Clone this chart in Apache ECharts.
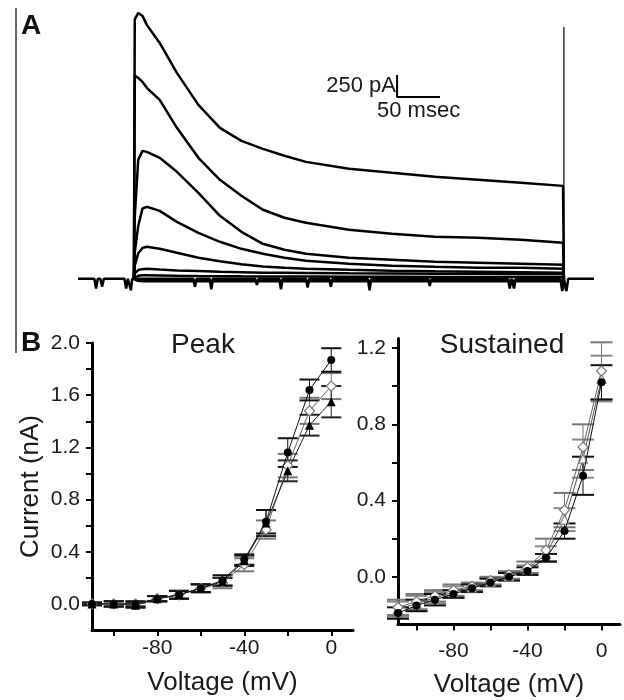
<!DOCTYPE html>
<html>
<head>
<meta charset="utf-8">
<script src="https://cdn.jsdelivr.net/npm/echarts@6/dist/echarts.min.js"></script>
<style>
html,body{margin:0;padding:0;background:#fff;}
#chart{width:624px;height:700px;}
</style>
</head>
<body>
<div id="chart"></div>
<script>
// ---------- Panel A : current traces (time in ms, current in pA) ----------
const tA = [0, 1, 5, 10, 15, 30, 50, 75, 100, 125, 150, 175, 200, 250, 300, 350, 400, 450, 499, 500];
const trace1 = [0, 2950, 3024, 2990, 2888, 2683, 2342, 1978, 1717, 1569, 1478, 1399, 1330, 1251, 1205, 1160, 1126, 1092, 1057, 0];
const trace2 = [0, 2308, 2285, 2240, 2172, 2035, 1717, 1376, 1126, 944, 785, 694, 637, 557, 512, 478, 466, 443, 409, 0];
const trace3 = [0, 700, 1353, 1455, 1444, 1376, 1217, 978, 716, 534, 398, 330, 284, 239, 216, 193, 182, 171, 159, 0];
const trace4 = [0, 300, 600, 800, 819, 773, 648, 523, 421, 341, 284, 239, 205, 171, 148, 136, 125, 125, 114, 0];
const trace5 = [0, 150, 290, 350, 364, 341, 296, 240, 200, 165, 140, 125, 114, 102, 91, 85, 80, 75, 70, 0];
const trace6 = [0, 60, 100, 110, 114, 105, 95, 88, 80, 75, 70, 68, 66, 62, 60, 58, 57, 56, 55, 0];
const trace7 = [0, 20, 35, 40, 40, 38, 35, 32, 30, 28, 27, 26, 25, 24, 23, 22, 22, 21, 20, 0];
const trace8 = [0, -10, -20, -25, -25, -25, -25, -25, -25, -25, -25, -25, -25, -25, -25, -25, -25, -25, -25, 0];
const baselineT = [-65, -46, -44, -42, -39, -37, -35, -11, -9, -7, -5, -3.5, -2, 69, 71, 73, 88, 90, 92, 141, 143, 145, 169, 171, 173, 200, 202, 204, 227, 229, 231, 272, 274, 276, 342, 344, 346, 435, 437, 439, 440, 442, 444, 496, 498, 500, 501, 503, 505, 535];
const baselineI = [0, 0, -110, 0, 0, -90, 0, 0, -110, 0, 0, -130, 0, 0, -90, 0, 0, -120, 0, 0, -70, 0, 0, -120, 0, 0, -100, 0, 0, -90, 0, 0, -130, 0, 0, -80, 0, 0, -110, 0, 0, -110, 0, 0, -140, 0, 0, -140, 0, 0];
const offsetT = [500, 500];
const offsetI = [2865, -125];
const scaleBarT = [306, 306, 356];   // 50 msec horizontal
const scaleBarI = [2319, 2069, 2069]; // 250 pA vertical

// ---------- Panel B : I-V relations ----------
const voltages = [-110, -100, -90, -80, -70, -60, -50, -40, -30, -20, -10, 0];
const voltageTicks = [-100, -80, -60, -40, -20, 0];
const voltageLabels = [-80, -40, 0];

const peakCircle    = [0.00, 0.00, 0.00, 0.04, 0.07, 0.12, 0.18, 0.34, 0.63, 1.16, 1.64, 1.87];
const peakCircleErr = [0.01, 0.02, 0.02, 0.02, 0.03, 0.03, 0.04, 0.04, 0.09, 0.11, 0.08, 0.09];
const peakDiamond    = [0.00, 0.00, 0.00, 0.04, 0.07, 0.12, 0.16, 0.30, 0.57, 1.06, 1.48, 1.67];
const peakDiamondErr = [0.01, 0.02, 0.02, 0.02, 0.03, 0.03, 0.04, 0.05, 0.07, 0.09, 0.10, 0.10];
const peakTriangle    = [0.00, 0.00, -0.01, 0.04, 0.07, 0.12, 0.17, 0.33, 0.62, 1.02, 1.37, 1.55];
const peakTriangleErr = [0.01, 0.02, 0.02, 0.02, 0.03, 0.03, 0.03, 0.04, 0.10, 0.08, 0.08, 0.12];
const peakTicks = [0, 0.2, 0.4, 0.6, 0.8, 1.0, 1.2, 1.4, 1.6, 1.8, 2.0];
const peakLabels = [0, 0.4, 0.8, 1.2, 1.6, 2.0];

const susCircle    = [-0.19, -0.15, -0.12, -0.09, -0.06, -0.03, 0.00, 0.03, 0.10, 0.24, 0.53, 1.02];
const susCircleErr = [0.03, 0.03, 0.03, 0.02, 0.02, 0.02, 0.02, 0.02, 0.02, 0.04, 0.10, 0.09];
const susDiamond    = [-0.16, -0.13, -0.10, -0.07, -0.05, -0.02, 0.01, 0.05, 0.14, 0.35, 0.68, 1.08];
const susDiamondErr = [0.04, 0.04, 0.03, 0.03, 0.02, 0.02, 0.02, 0.03, 0.06, 0.09, 0.12, 0.15];
const susTriangle    = [-0.17, -0.14, -0.11, -0.08, -0.055, -0.025, 0.005, 0.04, 0.12, 0.30, 0.62, 1.04];
const susTriangleErr = [0.04, 0.04, 0.03, 0.03, 0.02, 0.02, 0.02, 0.02, 0.04, 0.06, 0.10, 0.12];
const susTicks = [-0.2, 0, 0.2, 0.4, 0.6, 0.8, 1.0, 1.2];
const susLabels = [0, 0.4, 0.8, 1.2];

// ---------- build ----------
const FONT = '"Liberation Sans", Arial, Helvetica, sans-serif';
const TXT = '#1a1a1a';
const pair = (xs, ys) => xs.map((x, i) => [x, ys[i]]);

function traceSeries(vals, width) {
  return {
    type: 'line', xAxisIndex: 0, yAxisIndex: 0, data: pair(tA, vals),
    showSymbol: false, symbol: 'none', silent: true,
    lineStyle: { color: '#000', width: width }, z: 3
  };
}

function errRender(halfW, color, capW) {
  return function (params, api) {
    const x = api.value(0), lo = api.value(1), hi = api.value(2);
    const pl = api.coord([x, lo]), ph = api.coord([x, hi]);
    const mk = (x1, y1, x2, y2, w) => ({ type: 'line', shape: { x1, y1, x2, y2 }, style: { stroke: color, lineWidth: w } });
    return {
      type: 'group',
      children: [
        mk(pl[0], pl[1], ph[0], ph[1], 1),
        mk(pl[0] - halfW, pl[1], pl[0] + halfW, pl[1], capW),
        mk(ph[0] - halfW, ph[1], ph[0] + halfW, ph[1], capW)
      ]
    };
  };
}

function ivSeries(axisIdx, means, errs, marker, halfW) {
  const errData = voltages.map((v, i) => [v, means[i] - errs[i], means[i] + errs[i]]);
  return [
    {
      type: 'custom', xAxisIndex: axisIdx, yAxisIndex: axisIdx, data: errData,
      encode: { x: 0, y: [1, 2] }, renderItem: errRender(halfW, marker.errColor, 2), silent: true, z: 2
    },
    {
      type: 'line', xAxisIndex: axisIdx, yAxisIndex: axisIdx, data: pair(voltages, means),
      symbol: marker.symbol, symbolSize: marker.size, showSymbol: true, silent: true,
      lineStyle: { color: marker.lineColor, width: 1 },
      itemStyle: { color: marker.fill, borderColor: marker.stroke, borderWidth: marker.bw },
      z: marker.z
    }
  ];
}

const mCircle = { symbol: 'circle', size: 8, fill: '#000', stroke: '#000', bw: 0, lineColor: '#111', errColor: '#111', z: 5 };
const mDiamond = { symbol: 'diamond', size: 10, fill: '#fff', stroke: '#777', bw: 1.2, lineColor: '#666', errColor: '#777', z: 4 };
const mTriangleF = { symbol: 'triangle', size: 9, fill: '#000', stroke: '#000', bw: 0, lineColor: '#222', errColor: '#222', z: 4 };
const mTriangleO = { symbol: 'triangle', size: 9, fill: '#fff', stroke: '#888', bw: 1.2, lineColor: '#555', errColor: '#888', z: 3 };

function ivAxes(idx, grid, xmin, xmax, ymin, ymax, yTicks, yLabels, xLabelMargin) {
  const axisLine = { show: true, onZero: false, lineStyle: { color: '#000', width: 3 } };
  const axisTick = { show: true, inside: false, length: 6, lineStyle: { color: '#000', width: 2 } };
  return {
    x: {
      type: 'value', gridIndex: idx, min: xmin, max: xmax, splitLine: { show: false },
      axisLine: axisLine,
      axisTick: Object.assign({ customValues: voltageTicks }, axisTick),
      axisLabel: { customValues: voltageLabels, color: TXT, fontFamily: FONT, fontSize: 21, margin: xLabelMargin },
      name: 'Voltage (mV)', nameLocation: 'middle', nameGap: grid.nameGapX,
      nameTextStyle: { color: TXT, fontFamily: FONT, fontSize: 26 }
    },
    y: {
      type: 'value', gridIndex: idx, min: ymin, max: ymax, splitLine: { show: false },
      axisLine: axisLine,
      axisTick: Object.assign({ customValues: yTicks }, axisTick),
      axisLabel: { customValues: yLabels, color: TXT, fontFamily: FONT, fontSize: 21, margin: 12,
        formatter: v => Number(v).toFixed(1) }
    }
  };
}

const peakAx = ivAxes(1, { nameGapX: 40 }, -110, 10, -0.2, 2.0, peakTicks, peakLabels, 8);
const susAx = ivAxes(2, { nameGapX: 47 }, -110, 10, -0.25, 1.25, susTicks, susLabels, 16);
peakAx.y.name = 'Current (nA)';
peakAx.y.nameLocation = 'middle';
peakAx.y.nameGap = 48;
peakAx.y.nameTextStyle = { color: TXT, fontFamily: FONT, fontSize: 26 };

const option = {
  animation: false,
  backgroundColor: '#fff',
  title: [
    { text: 'Peak', left: 198, top: 326, textAlign: 'center',
      textStyle: { color: TXT, fontFamily: FONT, fontSize: 28, fontWeight: 'normal' } },
    { text: 'Sustained', left: 497, top: 326, textAlign: 'center',
      textStyle: { color: TXT, fontFamily: FONT, fontSize: 28, fontWeight: 'normal' } }
  ],
  grid: [
    { left: 78, top: 8, width: 516, height: 284 },
    { left: 92, top: 343, width: 261, height: 287 },
    { left: 398, top: 338.5, width: 222, height: 286 }
  ],
  xAxis: [
    { type: 'value', gridIndex: 0, min: -65, max: 535, show: false },
    peakAx.x, susAx.x
  ],
  yAxis: [
    { type: 'value', gridIndex: 0, min: -150, max: 3080, show: false },
    peakAx.y, susAx.y
  ],
  graphic: [
    { type: 'line', shape: { x1: 16, y1: 8, x2: 16, y2: 353 }, style: { stroke: '#333', lineWidth: 1.5 } },
    { type: 'text', left: 21, top: 12, style: { text: 'A', font: 'bold 28px ' + FONT, fill: '#111' } },
    { type: 'text', left: 21, top: 329, style: { text: 'B', font: 'bold 28px ' + FONT, fill: '#111' } },
    { type: 'text', right: 624 - 396, top: 75, style: { text: '250 pA', font: '22px ' + FONT, fill: TXT } },
    { type: 'text', left: 377, top: 100, style: { text: '50 msec', font: '22px ' + FONT, fill: TXT } }
  ],
  series: [
    { type: 'line', xAxisIndex: 0, yAxisIndex: 0, data: pair(baselineT, baselineI), showSymbol: false, symbol: 'none',
      lineStyle: { color: '#000', width: 2.5 }, z: 3, silent: true },
    traceSeries(trace8, 3),
    traceSeries(trace7, 2.5),
    traceSeries(trace6, 2.5),
    traceSeries(trace5, 2.5),
    traceSeries(trace4, 2.5),
    traceSeries(trace3, 2.5),
    traceSeries(trace2, 2.5),
    traceSeries(trace1, 2.5),
    { type: 'line', xAxisIndex: 0, yAxisIndex: 0, data: pair(offsetT, offsetI), showSymbol: false, symbol: 'none',
      lineStyle: { color: '#000', width: 1.2 }, z: 3, silent: true },
    { type: 'line', xAxisIndex: 0, yAxisIndex: 0, data: pair(scaleBarT, scaleBarI), showSymbol: false, symbol: 'none',
      lineStyle: { color: '#000', width: 2 }, z: 3, silent: true },
    ...ivSeries(1, peakDiamond, peakDiamondErr, mDiamond, 10),
    ...ivSeries(1, peakTriangle, peakTriangleErr, mTriangleF, 10),
    ...ivSeries(1, peakCircle, peakCircleErr, mCircle, 10),
    ...ivSeries(2, susTriangle, susTriangleErr, mTriangleO, 11),
    ...ivSeries(2, susDiamond, susDiamondErr, mDiamond, 11),
    ...ivSeries(2, susCircle, susCircleErr, mCircle, 11)
  ]
};

const chart = echarts.init(document.getElementById('chart'), null, { renderer: 'canvas' });
chart.setOption(option);
</script>
</body>
</html>
